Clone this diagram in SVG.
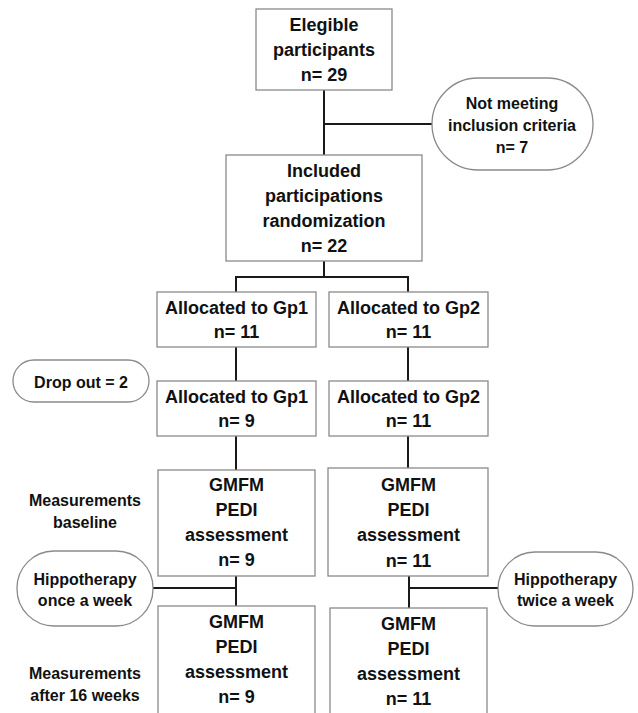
<svg xmlns="http://www.w3.org/2000/svg" width="638" height="713" viewBox="0 0 638 713">
<style>
.box{fill:#fff;stroke:#8a8a8a;stroke-width:1.3}
.pill{fill:#fff;stroke:#8a8a8a;stroke-width:1.3}
.t{font-family:"Liberation Sans",Arial,sans-serif;font-weight:bold;font-size:18px;fill:#111;text-anchor:middle}
.s{font-family:"Liberation Sans",Arial,sans-serif;font-weight:bold;font-size:16px;fill:#111;text-anchor:middle}
.c{fill:none;stroke:#1a1a1a;stroke-width:2}
</style>
<rect width="638" height="713" fill="#fff"/>
<g id="connectors">
<path class="c" d="M324 90V155M324 124H432"/>
<path class="c" d="M324 261V277M236 277H408M236 276V292M408 276V292"/>
<path class="c" d="M236 347V381M408 347V381"/>
<path class="c" d="M236 436V470M408 436V468"/>
<path class="c" d="M236 576V606M153 588H236"/>
<path class="c" d="M409 576V608M409 588H498"/>
</g>
<g id="eligible">
<rect class="box" x="256" y="9" width="136" height="81"/>
<text class="t" x="324" y="31">Elegible</text>
<text class="t" x="324" y="56">participants</text>
<text class="t" x="324" y="81">n= 29</text>
</g>
<g id="not-meeting">
<rect class="pill" x="432" y="78" width="161" height="92" rx="46" ry="46"/>
<text class="s" x="512" y="108.5">Not meeting</text>
<text class="s" x="512" y="130.5">inclusion criteria</text>
<text class="s" x="512" y="152.5">n= 7</text>
</g>
<g id="included">
<rect class="box" x="226" y="155" width="196" height="106"/>
<text class="t" x="324" y="177">Included</text>
<text class="t" x="324" y="202">participations</text>
<text class="t" x="324" y="227">randomization</text>
<text class="t" x="324" y="252">n= 22</text>
</g>
<g id="gp1-alloc">
<rect class="box" x="157" y="292" width="159" height="55"/>
<text class="t" x="236.5" y="314">Allocated to Gp1</text>
<text class="t" x="236.5" y="338">n= 11</text>
</g>
<g id="gp2-alloc">
<rect class="box" x="329" y="292" width="159" height="55"/>
<text class="t" x="408.5" y="314">Allocated to Gp2</text>
<text class="t" x="408.5" y="338">n= 11</text>
</g>
<g id="dropout">
<rect class="pill" x="13" y="360" width="136" height="42" rx="21" ry="21"/>
<text class="s" x="81" y="387.5">Drop out = 2</text>
</g>
<g id="gp1-final">
<rect class="box" x="157" y="381" width="159" height="55"/>
<text class="t" x="236.5" y="403">Allocated to Gp1</text>
<text class="t" x="236.5" y="427">n= 9</text>
</g>
<g id="gp2-final">
<rect class="box" x="329" y="381" width="159" height="55"/>
<text class="t" x="408.5" y="403">Allocated to Gp2</text>
<text class="t" x="408.5" y="427">n= 11</text>
</g>
<g id="label-baseline">
<text class="s" x="85" y="505.5">Measurements</text>
<text class="s" x="85" y="527.5">baseline</text>
</g>
<g id="gp1-baseline">
<rect class="box" x="158" y="470" width="157" height="106"/>
<text class="t" x="236.5" y="491">GMFM</text>
<text class="t" x="236.5" y="516">PEDI</text>
<text class="t" x="236.5" y="541">assessment</text>
<text class="t" x="236.5" y="566">n= 9</text>
</g>
<g id="gp2-baseline">
<rect class="box" x="328" y="468" width="160" height="108"/>
<text class="t" x="408.5" y="491">GMFM</text>
<text class="t" x="408.5" y="516">PEDI</text>
<text class="t" x="408.5" y="541">assessment</text>
<text class="t" x="408.5" y="567">n= 11</text>
</g>
<g id="hippo-once">
<rect class="pill" x="17" y="551" width="136" height="75" rx="37" ry="37"/>
<text class="s" x="85" y="584.5">Hippotherapy</text>
<text class="s" x="85" y="605.5">once a week</text>
</g>
<g id="hippo-twice">
<rect class="pill" x="498" y="552" width="135" height="74" rx="37" ry="37"/>
<text class="s" x="565.5" y="584.5">Hippotherapy</text>
<text class="s" x="565.5" y="605.5">twice a week</text>
</g>
<g id="gp1-after">
<rect class="box" x="158" y="606" width="157" height="108"/>
<text class="t" x="236.5" y="628">GMFM</text>
<text class="t" x="236.5" y="653">PEDI</text>
<text class="t" x="236.5" y="678">assessment</text>
<text class="t" x="236.5" y="703">n= 9</text>
</g>
<g id="gp2-after">
<rect class="box" x="330" y="608" width="157" height="106"/>
<text class="t" x="408.5" y="630">GMFM</text>
<text class="t" x="408.5" y="655">PEDI</text>
<text class="t" x="408.5" y="680">assessment</text>
<text class="t" x="408.5" y="705">n= 11</text>
</g>
<g id="label-after">
<text class="s" x="85" y="678.5">Measurements</text>
<text class="s" x="85" y="700.5">after 16 weeks</text>
</g>
</svg>
